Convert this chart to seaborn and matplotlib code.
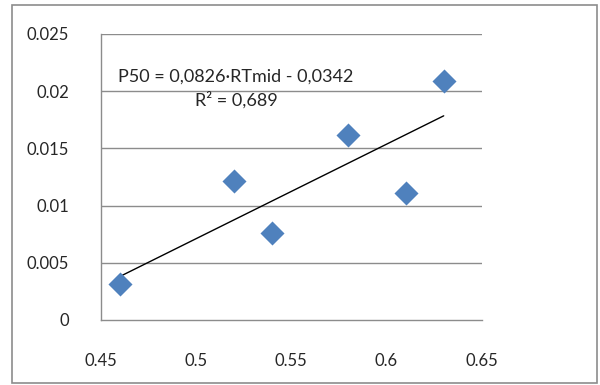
import matplotlib
matplotlib.use('Agg')
import numpy as np
import pandas as pd
import matplotlib.pyplot as plt
import seaborn as sns
from matplotlib.patches import Rectangle

# --- Data ---
rt_mid = [0.46, 0.52, 0.54, 0.58, 0.61, 0.63]
p50 = [0.0031, 0.0121, 0.0076, 0.0162, 0.0111, 0.0209]
slope = 0.0826
intercept = -0.0342
r2 = 0.689
x_ticks = [0.45, 0.5, 0.55, 0.6, 0.65]
x_tick_labels = ['0.45', '0.5', '0.55', '0.6', '0.65']
y_ticks = [0, 0.005, 0.01, 0.015, 0.02, 0.025]
y_tick_labels = ['0', '0.005', '0.01', '0.015', '0.02', '0.025']

df = pd.DataFrame({'RTmid': rt_mid, 'P50': p50})

sns.set_style('white')
plt.rcParams['font.family'] = ['Lato', 'DejaVu Sans']

fig = plt.figure(figsize=(6, 3.85), dpi=100)
ax = fig.add_axes([0.168, 0.169, 0.635, 0.743])

# outer chart border
fig.patches.append(Rectangle((0.02, 0.005), 0.975, 0.982, transform=fig.transFigure,
                             fill=False, edgecolor='#8c8c8c', linewidth=1.2))

# gridlines
for yv in y_ticks[1:]:
    ax.axhline(yv, color='#8c8c8c', linewidth=1.0, zorder=0)

# trendline
xl = np.array([min(rt_mid), max(rt_mid)])
ax.plot(xl, slope * xl + intercept, color='black', linewidth=1.0, zorder=2)

sns.scatterplot(data=df, x='RTmid', y='P50', marker='D', s=150, color='#4F81BD',
                edgecolor='#4F81BD', linewidth=0, ax=ax, zorder=3)

ax.text(0.521, 0.02124, 'P50 = 0,0826·RTmid - 0,0342', ha='center', va='center', fontsize=13)
ax.text(0.521, 0.01923, f'R² = {r2}'.replace('.', ','), ha='center', va='center', fontsize=13)

ax.set_xlim(0.45, 0.65)
ax.set_ylim(0, 0.025)
ax.set_xticks(x_ticks)
ax.set_xticklabels(x_tick_labels)
ax.set_yticks(y_ticks)
ax.set_yticklabels(y_tick_labels)
ax.set_xlabel('')
ax.set_ylabel('')
ax.tick_params(axis='both', direction='out', length=4, width=1.0, color='#8c8c8c',
               labelsize=12)
ax.tick_params(axis='y', pad=19)
ax.tick_params(axis='x', pad=20)
for side in ['top', 'right']:
    ax.spines[side].set_visible(False)
for side in ['left', 'bottom']:
    ax.spines[side].set_color('#8c8c8c')
    ax.spines[side].set_linewidth(1.0)

fig.savefig('out.png', dpi=100)
